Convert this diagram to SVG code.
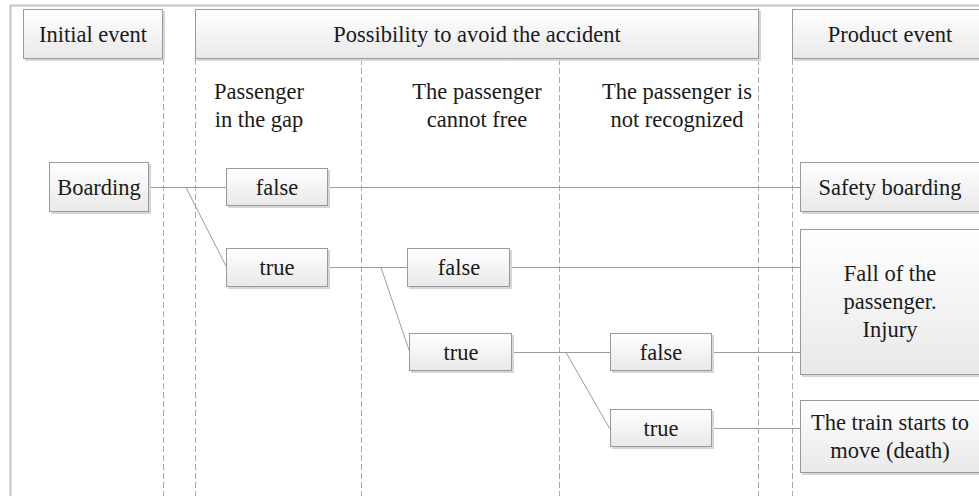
<svg xmlns="http://www.w3.org/2000/svg" width="979" height="496" viewBox="0 0 979 496">
<defs>
<linearGradient id="g" x1="0" y1="0" x2="0" y2="1">
<stop offset="0" stop-color="#ffffff"/>
<stop offset="1" stop-color="#e9e9ea"/>
</linearGradient>
<style>
.box{fill:url(#g);stroke:#9a9a9a;stroke-width:1}
.sh{fill:#d6d6d6}
text{font-family:"Liberation Serif","Tinos","Times New Roman","DejaVu Serif","Noto Serif",Times,serif;font-size:22.5px;fill:#1a1a1a;text-anchor:middle}
.dash{stroke:#a8a8a8;stroke-width:1;stroke-dasharray:6,3;fill:none}
.ln{stroke:#9c9c9c;stroke-width:1;fill:none}
.frame{stroke:#c4c4c4;stroke-width:2;fill:none}
</style>
</defs>
<rect x="0" y="0" width="979" height="496" fill="#ffffff"/>
<path class="frame" d="M10.5 496 V5.5 H985"/>
<g id="lanes">
<line class="dash" x1="163.5" y1="59" x2="163.5" y2="496"/>
<line class="dash" x1="195.5" y1="59" x2="195.5" y2="496"/>
<line class="dash" x1="361.5" y1="59" x2="361.5" y2="496"/>
<line class="dash" x1="559.5" y1="59" x2="559.5" y2="496"/>
<line class="dash" x1="758.5" y1="59" x2="758.5" y2="496"/>
<line class="dash" x1="792.5" y1="59" x2="792.5" y2="496"/>
</g>
<g id="connectors">
<polyline class="ln" points="149,187.5 226,187.5"/>
<line class="ln" x1="186" y1="187.5" x2="226" y2="266"/>
<line class="ln" x1="328" y1="187.5" x2="800" y2="187.5"/>
<line class="ln" x1="328" y1="267.5" x2="407" y2="267.5"/>
<line class="ln" x1="381" y1="267.5" x2="409" y2="350"/>
<line class="ln" x1="510" y1="267.5" x2="800" y2="267.5"/>
<line class="ln" x1="512" y1="352.5" x2="610" y2="352.5"/>
<line class="ln" x1="566" y1="352.5" x2="610" y2="429"/>
<line class="ln" x1="712" y1="352.5" x2="800" y2="352.5"/>
<line class="ln" x1="712" y1="428.5" x2="800" y2="428.5"/>
</g>
<g id="h-initial">
<rect class="sh" x="25" y="11" width="140" height="50"/>
<rect class="box" x="23.5" y="9.5" width="139" height="49"/>
<text x="93" y="42" font-family="Liberation Serif">Initial event</text>
</g>
<g id="h-possibility">
<rect class="sh" x="197" y="11" width="564" height="50"/>
<rect class="box" x="195.5" y="9.5" width="563" height="49"/>
<text x="477" y="42">Possibility to avoid the accident</text>
</g>
<g id="h-product">
<rect class="sh" x="794" y="11" width="200" height="50"/>
<rect class="box" x="792.5" y="9.5" width="200" height="49"/>
<text x="890" y="42">Product event</text>
</g>
<g id="sub-gap">
<text x="259" y="99">Passenger</text>
<text x="259" y="127">in the gap</text>
</g>
<g id="sub-free">
<text x="477" y="99">The passenger</text>
<text x="477" y="127">cannot free</text>
</g>
<g id="sub-recog">
<text x="677" y="99">The passenger is</text>
<text x="677" y="127">not recognized</text>
</g>
<g id="boarding">
<rect class="sh" x="51" y="164" width="100" height="50"/>
<rect class="box" x="49.5" y="162.5" width="99" height="49"/>
<text x="99" y="195">Boarding</text>
</g>
<g id="gap-false">
<rect class="sh" x="228" y="170" width="102" height="38"/>
<rect class="box" x="226.5" y="168.5" width="101" height="37"/>
<text x="277" y="195">false</text>
</g>
<g id="gap-true">
<rect class="sh" x="228" y="250" width="102" height="39"/>
<rect class="box" x="226.5" y="248.5" width="101" height="38"/>
<text x="277" y="275">true</text>
</g>
<g id="free-false">
<rect class="sh" x="409" y="250" width="103" height="39"/>
<rect class="box" x="407.5" y="248.5" width="102" height="38"/>
<text x="459" y="275">false</text>
</g>
<g id="free-true">
<rect class="sh" x="411" y="335" width="103" height="38"/>
<rect class="box" x="409.5" y="333.5" width="102" height="37"/>
<text x="461" y="360">true</text>
</g>
<g id="recog-false">
<rect class="sh" x="612" y="335" width="102" height="38"/>
<rect class="box" x="610.5" y="333.5" width="101" height="37"/>
<text x="661" y="360">false</text>
</g>
<g id="recog-true">
<rect class="sh" x="612" y="411" width="102" height="38"/>
<rect class="box" x="610.5" y="409.5" width="101" height="37"/>
<text x="661" y="436">true</text>
</g>
<g id="safety">
<rect class="sh" x="802" y="164" width="200" height="50"/>
<rect class="box" x="800.5" y="162.5" width="200" height="49"/>
<text x="890" y="195">Safety boarding</text>
</g>
<g id="fall">
<rect class="sh" x="802" y="231" width="200" height="146"/>
<rect class="box" x="800.5" y="229.5" width="200" height="145"/>
<text x="890" y="281">Fall of the</text>
<text x="890" y="309">passenger.</text>
<text x="890" y="337">Injury</text>
</g>
<g id="death">
<rect class="sh" x="802" y="402" width="200" height="73"/>
<rect class="box" x="800.5" y="400.5" width="200" height="72"/>
<text x="890" y="430">The train starts to</text>
<text x="890" y="458">move (death)</text>
</g>
</svg>
